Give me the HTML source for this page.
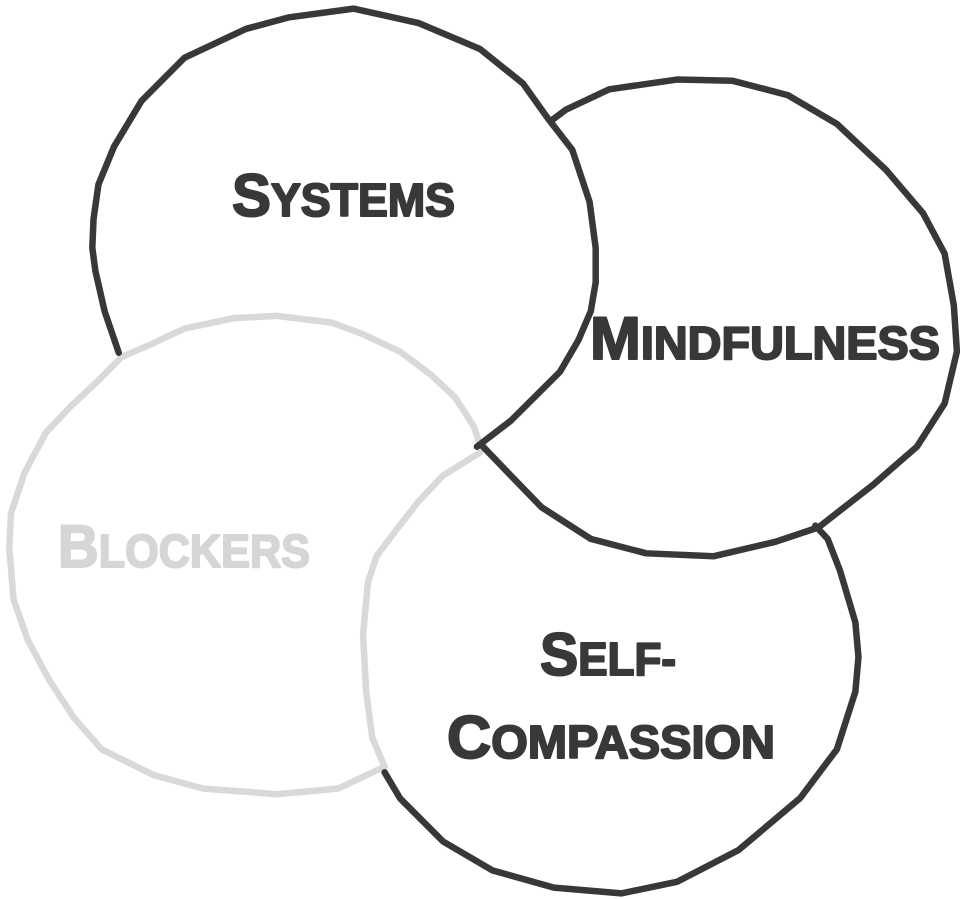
<!DOCTYPE html>
<html><head><meta charset="utf-8"><style>
html,body{margin:0;padding:0;background:#fff;}
svg{display:block;}
text{font-family:"Liberation Sans",sans-serif;font-weight:bold;stroke-linejoin:round;}
</style></head><body>
<svg width="960" height="899" viewBox="0 0 960 899">
<g transform="scale(0.61538,0.57637)" fill="none" stroke-linecap="round" stroke-linejoin="round">
<g stroke="#d9d9d9">
<polyline vector-effect="non-scaling-stroke" stroke-width="6.5" points="782,778 770,740 740,690 700,650 650,610 590,580 540,560 450,548 380,552 300,570 250,595 197,620 160,660 115,705 75,750 40,820 18,890 15,950 22,1040 45,1110 80,1180 120,1245 165,1300 250,1345 330,1368 450,1378 550,1368 625,1330"/>
<polyline vector-effect="non-scaling-stroke" stroke-width="6.5" points="780,785 720,825 680,870 640,925 612,965 598,1010 590,1100 595,1200 605,1280 625,1330"/>
</g>
<g stroke="#383838">
<polyline vector-effect="non-scaling-stroke" stroke-width="6.5" points="193,612 170,540 155,470 150,430 152,380 160,320 185,255 230,175 300,100 400,50 470,30 575,15 680,40 780,85 850,145 890,205 930,260 958,350 968,430 968,490 960,540 940,590 910,645 830,730 775,775"/>
<polyline vector-effect="non-scaling-stroke" stroke-width="6.5" points="895,210 920,190 990,155 1100,138 1190,140 1280,165 1360,215 1440,295 1500,370 1535,440 1550,530 1555,610 1535,700 1490,775 1420,840 1330,915 1260,940 1160,965 1050,960 960,935 880,880 830,825 785,775"/>
<polyline vector-effect="non-scaling-stroke" stroke-width="6.5" points="625,1340 650,1385 720,1460 800,1510 900,1540 1010,1550 1100,1530 1200,1475 1300,1385 1360,1300 1390,1200 1395,1140 1390,1080 1365,990 1345,935 1325,912"/>
</g>
</g>
<g fill="#383838" stroke="#383838" stroke-width="2">
<text x="232" y="216" textLength="223" lengthAdjust="spacingAndGlyphs" font-size="60">S<tspan font-size="46">YSTEMS</tspan></text>
<text x="590" y="359" textLength="350" lengthAdjust="spacingAndGlyphs" font-size="60">M<tspan font-size="46">INDFULNESS</tspan></text>
<text x="540" y="675" textLength="136" lengthAdjust="spacingAndGlyphs" font-size="60">S<tspan font-size="46">ELF-</tspan></text>
<text x="447" y="758" textLength="328" lengthAdjust="spacingAndGlyphs" font-size="60">C<tspan font-size="46">OMPASSION</tspan></text>
</g>
<text x="58" y="567" textLength="252" lengthAdjust="spacingAndGlyphs" font-size="60" fill="#d6d6d6" stroke="#d6d6d6" stroke-width="2">B<tspan font-size="46">LOCKERS</tspan></text>
</svg>
</body></html>
